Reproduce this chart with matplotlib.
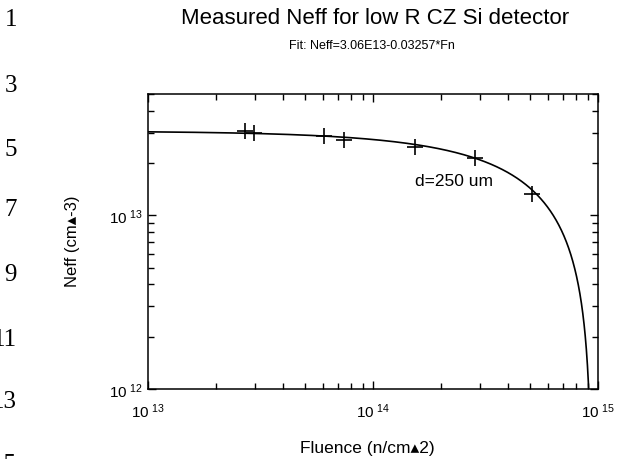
import numpy as np
import matplotlib
matplotlib.use("Agg")
import matplotlib.pyplot as plt
from matplotlib.ticker import FixedLocator, NullFormatter, FixedFormatter

plt.rcParams['font.family'] = ['Liberation Sans', 'DejaVu Sans']
plt.rcParams['mathtext.fontset'] = 'custom'
plt.rcParams['mathtext.rm'] = 'Liberation Sans'
plt.rcParams['mathtext.default'] = 'regular'

# Measured effective doping vs. neutron fluence
fluence = [2.70e13, 2.96e13, 6.05e13, 7.43e13, 1.53e14, 2.85e14, 5.10e14]
neff = [3.05e13, 3.00e13, 2.87e13, 2.71e13, 2.47e13, 2.15e13, 1.32e13]

# Linear fit Neff = n0 - beta * Fn
n0 = 3.06e13
beta = 0.03257

x_ticks = [1e13, 1e14, 1e15]
x_tick_labels = [r"$10^{\ 13}$", r"$10^{\ 14}$", r"$10^{\ 15}$"]
y_ticks = [1e12, 1e13]
y_tick_labels = [r"$10^{\ 12}$", r"$10^{\ 13}$"]
line_numbers = ["1", "3", "5", "7", "9", "11", "13", "15"]

W, H = 617, 460
fig = plt.figure(figsize=(W / 100, H / 100), dpi=100)
ax = fig.add_axes([148 / W, 1 - 390 / H, 450 / W, 295 / H])

# fit curve
fgrid = np.logspace(13, np.log10(n0 / beta) - 1e-4, 2000)
fit = n0 - beta * fgrid
ax.plot(fgrid, fit, color='black', lw=1.2)

ax.plot(fluence, neff, linestyle='none', marker='+', ms=11, mew=1.2, color='black')

ax.set_xscale('log')
ax.set_yscale('log')
ax.set_xlim(1e13, 1e15)
ax.set_ylim(1e12, 5e13)

ax.xaxis.set_major_locator(FixedLocator(x_ticks))
ax.xaxis.set_major_formatter(FixedFormatter(x_tick_labels))
ax.yaxis.set_major_locator(FixedLocator(y_ticks))
ax.yaxis.set_major_formatter(FixedFormatter(y_tick_labels))
xminor = [m * 10 ** e for e in (13, 14) for m in range(2, 10)]
yminor = [m * 1e12 for m in range(2, 10)] + [m * 1e13 for m in range(2, 6)]
ax.xaxis.set_minor_locator(FixedLocator(xminor))
ax.yaxis.set_minor_locator(FixedLocator(yminor))
ax.xaxis.set_minor_formatter(NullFormatter())
ax.yaxis.set_minor_formatter(NullFormatter())

ax.tick_params(which='both', direction='in', top=True, right=True, width=1.0, colors='black')
ax.tick_params(which='major', length=6)
ax.tick_params(which='minor', length=4)
ax.tick_params(axis='x', which='major', pad=9, labelsize=11)
ax.tick_params(axis='y', which='major', pad=4, labelsize=11)
for s in ax.spines.values():
    s.set_linewidth(1.1)

ax.text(454 / W, 1 - 182 / H, "d=250 um", transform=fig.transFigure,
        ha='center', va='center', fontsize=12.5)

fig.text(375 / W, 1 - 24 / H, "Measured Neff for low R CZ Si detector",
         ha='center', va='baseline', fontsize=16)
fig.text(372 / W, 1 - 49 / H, "Fit: Neff=3.06E13-0.03257*Fn",
         ha='center', va='baseline', fontsize=9)
fig.text(367 / W, 1 - 449 / H, "Fluence (n/cm\u25b42)",
         ha='center', va='center', fontsize=12.5)
fig.text(72 / W, 1 - 241 / H, "Neff (cm\u25b4-3)", rotation=90,
         ha='center', va='center', fontsize=12)

# document line numbers in the margin
baselines = [26.5, 91.5, 155.5, 216.5, 281.5, 345.5, 408.5, 471.5]
for lab, yb in zip(line_numbers, baselines):
    fig.text(17 / W, 1 - yb / H, lab, ha='right', va='baseline',
             fontsize=18, family='Liberation Serif')

fig.savefig("out.png", dpi=100)
